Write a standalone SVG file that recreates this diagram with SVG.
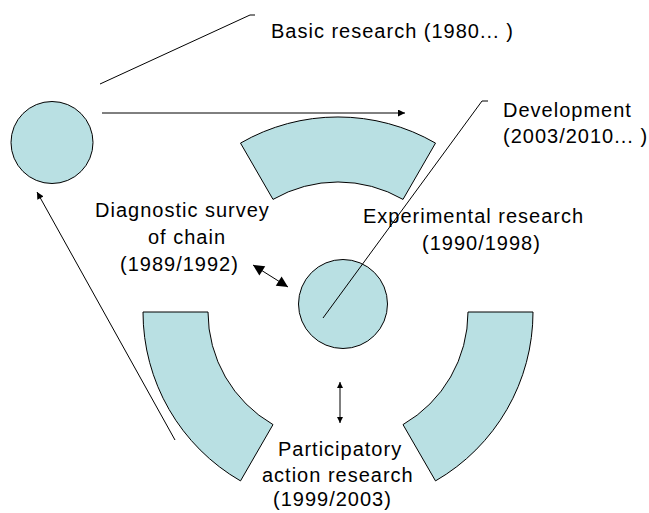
<svg xmlns="http://www.w3.org/2000/svg" width="649" height="513" viewBox="0 0 649 513">
<defs>
<style>
.shape{fill:#B9E0E3;stroke:#000;stroke-width:1}
.ln{fill:none;stroke:#000;stroke-width:1}
.txt{font-family:"Liberation Sans",Arial,sans-serif;font-size:20px;letter-spacing:1px;fill:#000}
</style>
<marker id="ah" viewBox="0 0 10 10" refX="10" refY="5" markerWidth="8" markerHeight="7" markerUnits="userSpaceOnUse" orient="auto-start-reverse">
<path d="M0,0 L10,5 L0,10 Z" fill="#000"/>
</marker>
<marker id="ahs" viewBox="0 0 10 10" refX="10" refY="5" markerWidth="7" markerHeight="6" markerUnits="userSpaceOnUse" orient="auto-start-reverse">
<path d="M0,0 L10,5 L0,10 Z" fill="#000"/>
</marker>
<marker id="ahb" viewBox="0 0 10 10" refX="10" refY="5" markerWidth="12" markerHeight="11" markerUnits="userSpaceOnUse" orient="auto-start-reverse">
<path d="M0,0 L10,5 L0,10 Z" fill="#000"/>
</marker>
</defs>
<rect width="649" height="513" fill="#fff"/>

<g id="basic-circle"><circle class="shape" cx="52" cy="142.5" r="41"/></g>
<g id="center-circle"><circle class="shape" cx="343" cy="304" r="44.5"/></g>
<g id="experimental-band"><path class="shape" d="M240.5,143.1 A195,195 0 0 1 435.5,143.1 L403,199.4 A130,130 0 0 0 273,199.4 Z"/></g>
<g id="diagnostic-band"><path class="shape" d="M143,312 L208,312 A130,130 0 0 0 273,424.6 L240.5,480.9 A195,195 0 0 1 143,312 Z"/></g>
<g id="development-band"><path class="shape" d="M533,312 L468,312 A130,130 0 0 1 403,424.6 L435.5,480.9 A195,195 0 0 0 533,312 Z"/></g>

<g id="connectors">
<polyline class="ln" points="100,84 250,15 255,15"/>
<polyline class="ln" points="323,318 482,101 488,101"/>
<line class="ln" x1="102" y1="113" x2="405" y2="113" marker-end="url(#ah)"/>
<line class="ln" x1="175" y1="440" x2="37" y2="192" marker-end="url(#ah)"/>
<line class="ln" x1="253" y1="265" x2="288" y2="287" stroke-width="3" marker-start="url(#ahb)" marker-end="url(#ahb)"/>
<line class="ln" x1="340" y1="382" x2="340" y2="423" marker-start="url(#ahs)" marker-end="url(#ahs)"/>
</g>

<g id="labels">
<text class="txt" x="271" y="38">Basic research (1980... )</text>
<text class="txt" x="503" y="117">Development</text>
<text class="txt" x="503" y="143">(2003/2010... )</text>
<text class="txt" x="363" y="223">Experimental research</text>
<text class="txt" x="422" y="250">(1990/1998)</text>
<text class="txt" x="95" y="217">Diagnostic survey</text>
<text class="txt" x="148" y="244">of chain</text>
<text class="txt" x="120" y="271">(1989/1992)</text>
<text class="txt" x="278" y="456">Participatory</text>
<text class="txt" x="262" y="482">action research</text>
<text class="txt" x="273" y="506">(1999/2003)</text>
</g>
</svg>
